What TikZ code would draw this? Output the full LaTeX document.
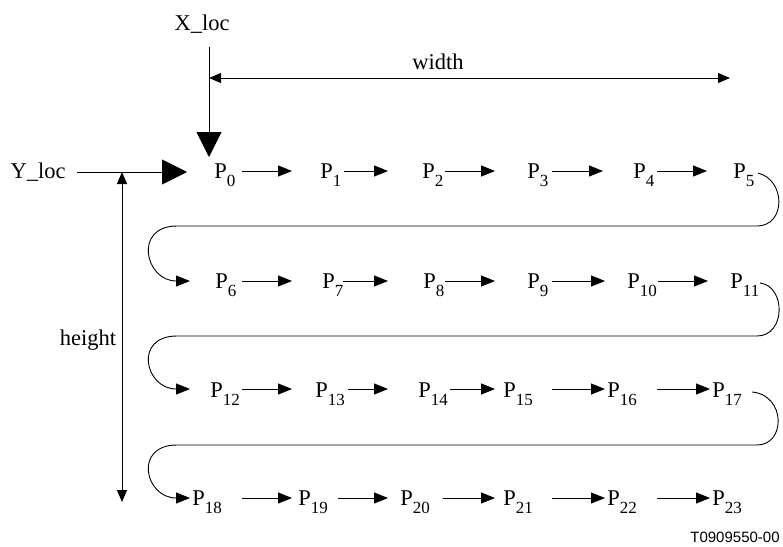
\documentclass[tikz,border=0pt]{standalone}
\usepackage{fontspec}
\setmainfont{Liberation Serif}
\newfontfamily\labelsans{Liberation Sans}
\usetikzlibrary{arrows.meta}
\newcommand{\Pn}[1]{P\raisebox{-8pt}{\fontsize{17}{17}\selectfont #1}}
\begin{document}
\begin{tikzpicture}[x=1pt,y=-1pt,line width=0.9pt,
  lbl/.style={font=\fontsize{22.5}{22.5}\selectfont, inner sep=0pt},
  ptxt/.style={lbl, anchor=base west},
  arr/.style={-{Triangle[length=14pt,width=11pt]}},
  bigarr/.style={-{Triangle[length=25pt,width=25pt]}},
  dimarr/.style={{Triangle[length=12pt,width=10pt]}-{Triangle[length=12pt,width=10pt]}}]
\useasboundingbox (0,0) rectangle (783,546);
% labels
\node[lbl] (xloc) at (202,24) {X\_loc};
\node[lbl] (yloc) at (38,172) {Y\_loc};
\node[lbl] (wlab) at (438,62) {width};
\node[lbl] (hlab) at (88,340) {height};
\node[font=\labelsans\fontsize{15}{15}\selectfont, inner sep=0pt] (tag) at (735,537) {T0909550-00};
% X_loc / Y_loc
\coordinate (xs) at (209,47);
\coordinate (xe) at (209,157);
\draw[bigarr] (xs) -- (xe);
\coordinate (ys) at (77,172);
\coordinate (ye) at (187,172);
\draw[bigarr] (ys) -- (ye);
% width / height
\coordinate (w1) at (209,78);
\coordinate (w2) at (730,78);
\draw[dimarr] (w1) -- (w2);
\coordinate (h1) at (122,172);
\coordinate (h2) at (122,502);
\draw[dimarr] (h1) -- (h2);
% P nodes
\foreach \i/\x in {0/214,1/320,2/422,3/527,4/633,5/733}
  \node[ptxt] (p\i) at (\x,178) {\Pn{\i}};
\foreach \i/\x in {6/215,7/322,8/423,9/527,10/627,11/730}
  \node[ptxt] (p\i) at (\x,288) {\Pn{\i}};
\foreach \i/\x in {12/210,13/315,14/418,15/503,16/607,17/712}
  \node[ptxt] (p\i) at (\x,397) {\Pn{\i}};
\foreach \i/\x in {18/192,19/298,20/400,21/503,22/607,23/712}
  \node[ptxt] (p\i) at (\x,505) {\Pn{\i}};
% arrows between P's
\foreach \a/\b in {242/292,344/388,445/495,552/603,657/707}
  \draw[arr] (\a,171) -- (\b,171);
\foreach \a/\b in {242/292,343/388,445/495,552/605,658/708}
  \draw[arr] (\a,281) -- (\b,281);
\foreach \a/\b in {242/292,348/388,450/495,552/605,657/710}
  \draw[arr] (\a,389) -- (\b,389);
\foreach \a/\b in {242/292,338/388,443/495,552/605,657/710}
  \draw[arr] (\a,498) -- (\b,498);
% return curves
\draw[arr] (758,173) .. controls (786,180) and (786,226) .. (757,226) -- (177,226)
  .. controls (133,226) and (145,281) .. (190,281);
\draw[arr] (760,283) .. controls (786,286) and (786,336) .. (757,336) -- (177,336)
  .. controls (133,336) and (145,389) .. (190,389);
\draw[arr] (752,392) .. controls (786,395) and (786,445) .. (757,445) -- (177,445)
  .. controls (133,445) and (145,498) .. (190,498);
\end{tikzpicture}
\end{document}
